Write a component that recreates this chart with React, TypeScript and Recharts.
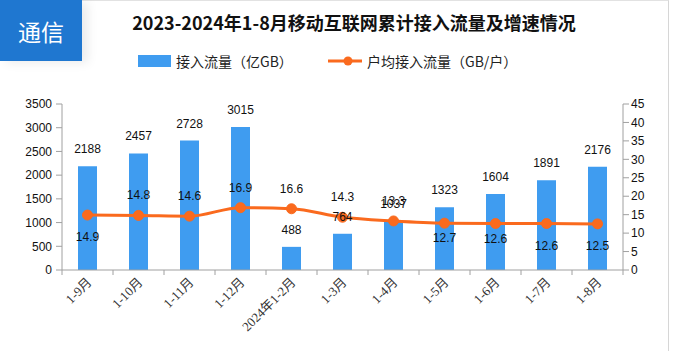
import React from "react"
import {
  ComposedChart,
  Bar,
  Line,
  XAxis,
  YAxis,
  LabelList,
} from "recharts"

const categories = [
  "1-9月",
  "1-10月",
  "1-11月",
  "1-12月",
  "2024年1-2月",
  "1-3月",
  "1-4月",
  "1-5月",
  "1-6月",
  "1-7月",
  "1-8月",
]
const trafficValues = [2188, 2457, 2728, 3015, 488, 764, 1037, 1323, 1604, 1891, 2176]
const perUserValues = [14.9, 14.8, 14.6, 16.9, 16.6, 14.3, 13.3, 12.7, 12.6, 12.6, 12.5]
const leftTicks = [0, 500, 1000, 1500, 2000, 2500, 3000, 3500]
const rightTicks = [0, 5, 10, 15, 20, 25, 30, 35, 40, 45]

// vertical offset of each line label from its dot (above < 0, below > 0)
const lineLabelDy = [22, -20, -20, -20, -20, -20, -20, 15, 15, 22, 22]

const data = categories.map((name, i) => ({
  name,
  traffic: trafficValues[i],
  perUser: perUserValues[i],
}))

const BLUE = "#3F9CF0"
const ORANGE = "#FA6A1E"
const AXIS = "#A0A0A0"
const HALF_BAND = 25.5

function XTick({ x, payload, index }: any) {
  const axisY = 270
  return (
    <g>
      <line x1={x - HALF_BAND} y1={axisY} x2={x - HALF_BAND} y2={axisY + 5} stroke={AXIS} />
      {index === categories.length - 1 && (
        <line x1={x + HALF_BAND} y1={axisY} x2={x + HALF_BAND} y2={axisY + 5} stroke={AXIS} />
      )}
      <text
        x={x + 5}
        y={axisY + 13}
        textAnchor="end"
        fontSize={13}
        fill="#333"
        fontFamily="'Liberation Serif', 'Noto Sans CJK SC', serif"
        transform={`rotate(-45, ${x + 5}, ${axisY + 13})`}
      >
        {payload.value}
      </text>
    </g>
  )
}

function LineLabel({ x, y, value, index }: any) {
  return (
    <text
      x={x}
      y={y + lineLabelDy[index]}
      textAnchor="middle"
      dominantBaseline="central"
      fontSize={12}
      fill="#111"
      fontFamily="'Liberation Sans', Arial, sans-serif"
    >
      {Number(value).toFixed(1)}
    </text>
  )
}

export default function App() {
  return (
    <div
      style={{
        position: "fixed",
        left: 0,
        top: 0,
        width: 674,
        height: 351,
        background: "#fff",
        overflow: "hidden",
      }}
    >
      {/* card border */}
      <div
        style={{
          position: "absolute",
          left: 82,
          top: 0,
          width: 587,
          height: 351,
          borderTop: "1px solid #e2e2e2",
          borderRight: "1px solid #d6d6d6",
          boxSizing: "border-box",
        }}
      />
      {/* header tag */}
      <div
        style={{
          position: "absolute",
          left: 0,
          top: 0,
          width: 82,
          height: 61,
          background: "#1F77D0",
          color: "#fff",
          fontSize: 23,
          fontFamily: "'Noto Sans CJK SC', sans-serif",
          display: "flex",
          alignItems: "center",
          justifyContent: "center",
          boxShadow: "6px 2px 10px rgba(0,0,0,0.08)",
        }}
      >
        通信
      </div>
      <div
        style={{
          position: "absolute",
          left: 128,
          top: 10,
          width: 452,
          textAlign: "center",
          fontSize: 18,
          lineHeight: "24px",
          fontWeight: 700,
          color: "#111",
          fontFamily: "'Noto Sans CJK SC', sans-serif",
          whiteSpace: "nowrap",
        }}
      >
        2023-2024年1-8月移动互联网累计接入流量及增速情况
      </div>
      {/* legend */}
      <div
        style={{
          position: "absolute",
          left: 138,
          top: 55,
          width: 33,
          height: 12,
          background: BLUE,
        }}
      />
      <div
        style={{
          position: "absolute",
          left: 176,
          top: 51,
          fontSize: 14,
          lineHeight: "20px",
          color: "#222",
          fontFamily: "'Noto Sans CJK SC', sans-serif",
          whiteSpace: "nowrap",
        }}
      >
        接入流量（亿GB）
      </div>
      <svg style={{ position: "absolute", left: 326, top: 54 }} width={38} height={14}>
        <line x1={2} y1={7} x2={36} y2={7} stroke={ORANGE} strokeWidth={3} />
        <circle cx={22} cy={7} r={4.5} fill={ORANGE} />
      </svg>
      <div
        style={{
          position: "absolute",
          left: 367,
          top: 51,
          fontSize: 14,
          lineHeight: "20px",
          color: "#222",
          fontFamily: "'Noto Sans CJK SC', sans-serif",
          whiteSpace: "nowrap",
        }}
      >
        户均接入流量（GB/户）
      </div>

      <div style={{ position: "absolute", left: 0, top: 0 }}>
        <ComposedChart
          width={674}
          height={351}
          data={data}
          margin={{ top: 104, right: 11, left: 22, bottom: 21 }}
        >
          <XAxis
            dataKey="name"
            height={60}
            interval={0}
            tickLine={false}
            stroke={AXIS}
            tick={<XTick />}
          />
          <YAxis
            yAxisId="left"
            width={40}
            domain={[0, 3500]}
            ticks={leftTicks}
            interval={0}
            stroke={AXIS}
            tickSize={6}
            tickMargin={4}
            tick={{ fill: "#111", fontSize: 12, fontFamily: "'Liberation Sans', Arial, sans-serif" }}
          />
          <YAxis
            yAxisId="right"
            orientation="right"
            width={40}
            domain={[0, 45]}
            ticks={rightTicks}
            interval={0}
            stroke={AXIS}
            tickSize={6}
            tickMargin={2}
            tick={{ fill: "#111", fontSize: 12, fontFamily: "'Liberation Sans', Arial, sans-serif" }}
          />
          <Bar
            yAxisId="left"
            dataKey="traffic"
            fill={BLUE}
            barSize={19}
            isAnimationActive={false}
          >
            <LabelList
              dataKey="traffic"
              position="top"
              offset={13}
              fill="#111"
              fontSize={12}
              fontFamily="'Liberation Sans', Arial, sans-serif"
            />
          </Bar>
          <Line
            yAxisId="right"
            type="monotone"
            dataKey="perUser"
            stroke={ORANGE}
            strokeWidth={3}
            dot={{ r: 5, fill: ORANGE, stroke: ORANGE, strokeWidth: 1 }}
            isAnimationActive={false}
          >
            <LabelList dataKey="perUser" content={<LineLabel />} />
          </Line>
        </ComposedChart>
      </div>
    </div>
  )
}
